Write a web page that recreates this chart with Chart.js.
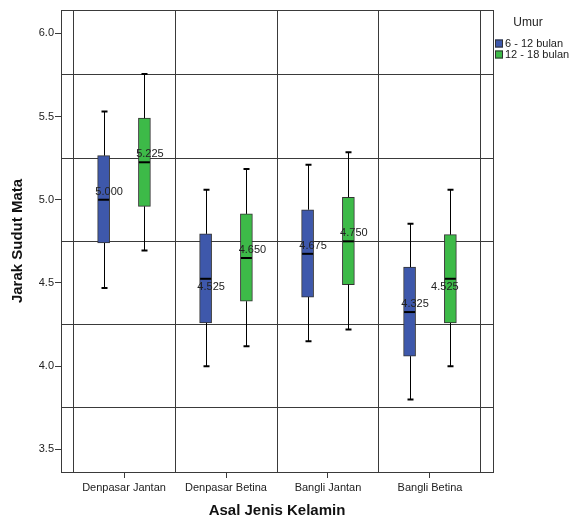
<!DOCTYPE html>
<html>
<head>
<meta charset="utf-8">
<script src="https://cdn.jsdelivr.net/npm/chart.js@4.4.1/dist/chart.umd.min.js"></script>
<style>
html,body{margin:0;padding:0;background:#fff;}
canvas{display:block;}
</style>
</head>
<body>
<canvas id="c" width="575" height="523"></canvas>
<script>
// ---------- data ----------
const categories = ['Denpasar Jantan', 'Denpasar Betina', 'Bangli Jantan', 'Bangli Betina'];
const seriesLabels = ['6 - 12 bulan', '12 - 18 bulan'];
const legendTitle = 'Umur';
const yTickValues = [3.5, 4.0, 4.5, 5.0, 5.5, 6.0];
const yRefLines = [3.75, 4.25, 4.75, 5.25, 5.75];

const min6_12    = [4.47, 4.00, 4.15, 3.80];
const q1_6_12    = [4.74, 4.26, 4.415, 4.06];
const median6_12 = [5.000, 4.525, 4.675, 4.325];
const q3_6_12    = [5.265, 4.795, 4.94, 4.595];
const max6_12    = [5.53, 5.06, 5.21, 4.855];

const min12_18    = [4.695, 4.12, 4.22, 4.00];
const q1_12_18    = [4.96, 4.39, 4.49, 4.26];
const median12_18 = [5.225, 4.650, 4.750, 4.525];
const q3_12_18    = [5.49, 4.915, 5.015, 4.79];
const max12_18    = [5.755, 5.185, 5.285, 5.06];

// ---------- styling / layout ----------
const COLORS = ['#3e58ab', '#3dba48'];
const LINE = '#3a3a3a';
const TXT = '#222';
const FONT = "'Liberation Sans', Arial, sans-serif";
const boxShift = [-0.2, 0.2];
const labelDy = [[-8, 8, -8, -8], [-8, -8, -8, 8]];
const labelDx = [[5.5, 5.5, 5.5, 5.5], [5.5, 6, 5.5, -5.5]];
const X_MIN = -0.618, X_MAX = 3.618;
const Y_MIN = 3.364, Y_MAX = 6.14;

const stats = [
  { min: min6_12, q1: q1_6_12, med: median6_12, q3: q3_6_12, max: max6_12 },
  { min: min12_18, q1: q1_12_18, med: median12_18, q3: q3_12_18, max: max12_18 }
];

const datasets = stats.map((s, d) => ({
  label: seriesLabels[d],
  data: categories.map((c, i) => ({ x: i + boxShift[d], y: [s.q1[i], s.q3[i]] })),
  backgroundColor: COLORS[d],
  borderColor: '#333',
  borderWidth: 1,
  borderSkipped: false,
  barThickness: 12,
  grouped: false
}));

const isInt = v => Math.abs(v - Math.round(v)) < 1e-6;

const boxPlugin = {
  id: 'boxExtras',
  afterDatasetsDraw(chart) {
    const ctx = chart.ctx;
    const y = chart.scales.y;
    ctx.save();
    stats.forEach((s, d) => {
      const meta = chart.getDatasetMeta(d);
      meta.data.forEach((el, i) => {
        const cx = Math.round(el.x) + 0.5;
        const w = el.width;
        const pMin = y.getPixelForValue(s.min[i]);
        const pQ1 = y.getPixelForValue(s.q1[i]);
        const pQ3 = y.getPixelForValue(s.q3[i]);
        const pMax = y.getPixelForValue(s.max[i]);
        const pMed = y.getPixelForValue(s.med[i]);
        ctx.strokeStyle = '#000';
        ctx.lineWidth = 1;
        ctx.beginPath();
        ctx.moveTo(cx, pQ3); ctx.lineTo(cx, pMax);
        ctx.moveTo(cx, pQ1); ctx.lineTo(cx, pMin);
        ctx.stroke();
        ctx.lineWidth = 2;
        ctx.beginPath();
        ctx.moveTo(cx - 3, pMax); ctx.lineTo(cx + 3, pMax);
        ctx.moveTo(cx - 3, pMin); ctx.lineTo(cx + 3, pMin);
        ctx.stroke();
        ctx.lineWidth = 2;
        ctx.beginPath();
        ctx.moveTo(el.x - w / 2 + 0.5, pMed); ctx.lineTo(el.x + w / 2 - 0.5, pMed);
        ctx.stroke();
        ctx.fillStyle = TXT;
        ctx.font = '11px ' + FONT;
        ctx.textAlign = 'center';
        ctx.textBaseline = 'middle';
        ctx.fillText(s.med[i].toFixed(3), el.x + labelDx[d][i], pMed + labelDy[d][i]);
      });
    });
    // legend
    ctx.fillStyle = TXT;
    ctx.font = '12px ' + FONT;
    ctx.textAlign = 'center';
    ctx.textBaseline = 'middle';
    ctx.fillText(legendTitle, 528, 23);
    chart.data.datasets.forEach((ds, d) => {
      const yy = 43.5 + d * 11;
      ctx.fillStyle = ds.backgroundColor;
      ctx.fillRect(495, yy - 4, 8, 8);
      ctx.strokeStyle = '#333';
      ctx.lineWidth = 1;
      ctx.strokeRect(495.5, yy - 3.5, 7, 7);
      ctx.fillStyle = TXT;
      ctx.font = '11px ' + FONT;
      ctx.textAlign = 'left';
      ctx.textBaseline = 'middle';
      ctx.fillText(ds.label, 505, yy);
    });
    ctx.restore();
  }
};

new Chart(document.getElementById('c'), {
  type: 'bar',
  data: { datasets },
  plugins: [boxPlugin],
  options: {
    responsive: false,
    animation: false,
    devicePixelRatio: 1,
    layout: { padding: { top: 10, right: 82, left: 0, bottom: 0 } },
    plugins: { legend: { display: false }, tooltip: { enabled: false } },
    scales: {
      x: {
        type: 'linear',
        min: X_MIN, max: X_MAX,
        offset: false,
        afterBuildTicks(scale) {
          const t = [X_MIN];
          for (let v = -0.5; v <= 3.5 + 1e-9; v += 0.5) t.push(Math.round(v * 2) / 2);
          t.push(X_MAX);
          scale.ticks = t.map(v => ({ value: v }));
        },
        afterFit(scale) { scale.height = 51; },
        grid: {
          offset: false,
          drawOnChartArea: true,
          tickLength: 6,
          lineWidth: 1,
          color: c => (c.tick && isInt(c.tick.value) ? 'rgba(0,0,0,0)' : LINE),
          tickColor: c => (c.tick && isInt(c.tick.value) ? LINE : 'rgba(0,0,0,0)')
        },
        border: { display: true, color: LINE, width: 1 },
        ticks: {
          autoSkip: false,
          maxRotation: 0,
          padding: 3,
          color: TXT,
          font: { family: FONT, size: 11 },
          callback: v => (isInt(v) && v >= 0 && v <= 3 ? categories[Math.round(v)] : '')
        },
        title: {
          display: true,
          text: 'Asal Jenis Kelamin',
          color: '#111',
          font: { family: FONT, size: 15, weight: 'bold' },
          padding: { top: 0, bottom: 3 }
        }
      },
      y: {
        type: 'linear',
        min: Y_MIN, max: Y_MAX,
        afterBuildTicks(scale) {
          const vals = [Y_MIN].concat(yTickValues, yRefLines, [Y_MAX]).sort((a, b) => a - b);
          scale.ticks = vals.map(v => ({ value: v }));
        },
        afterFit(scale) { scale.width = 61; },
        grid: {
          tickLength: 6,
          lineWidth: 1,
          color: c => (c.tick && yTickValues.some(v => Math.abs(v - c.tick.value) < 1e-6) ? 'rgba(0,0,0,0)' : LINE),
          tickColor: c => (c.tick && yTickValues.some(v => Math.abs(v - c.tick.value) < 1e-6) ? LINE : 'rgba(0,0,0,0)')
        },
        border: { display: true, color: LINE, width: 1 },
        ticks: {
          autoSkip: false,
          padding: 1,
          color: TXT,
          font: { family: FONT, size: 11 },
          callback: v => (yTickValues.some(t => Math.abs(t - v) < 1e-6) ? v.toFixed(1) : '')
        },
        title: {
          display: true,
          text: 'Jarak Sudut Mata',
          color: '#111',
          font: { family: FONT, size: 15, weight: 'bold' },
          padding: { top: 9, bottom: 0 }
        }
      }
    }
  }
});
</script>
</body>
</html>
